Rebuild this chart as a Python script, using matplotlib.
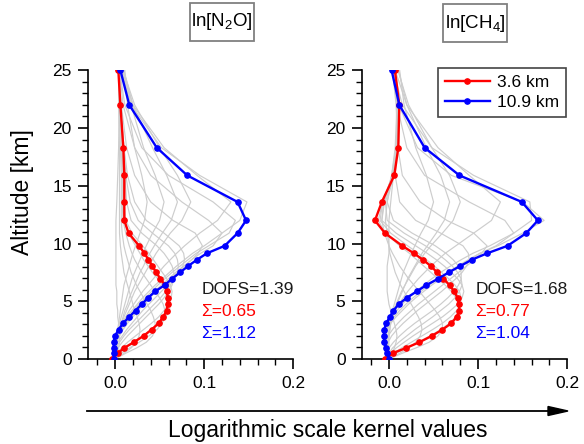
import numpy as np
import matplotlib.pyplot as plt
from matplotlib.ticker import MultipleLocator
from matplotlib.patches import Rectangle, Polygon

plt.rcParams['font.family'] = ['Liberation Sans', 'DejaVu Sans']
plt.rcParams['mathtext.fontset'] = 'custom'
plt.rcParams['mathtext.rm'] = 'Liberation Sans'
plt.rcParams['mathtext.default'] = 'regular'

# retrieval altitude levels [km]
alt = [0.0, 0.5, 0.95, 1.45, 2.0, 2.55, 3.1, 3.65, 4.2, 4.75, 5.3, 5.85, 6.4,
       6.95, 7.5, 8.05, 8.6, 9.15, 9.8, 10.9, 12.0, 13.6, 15.9, 18.3, 22.0, 25.0]

# ln[N2O] kernels
n2o_red = [-0.003, 0.003, 0.010, 0.021, 0.032, 0.041, 0.049, 0.054, 0.058, 0.059, 0.0592, 0.058, 0.056,
           0.051, 0.046, 0.042, 0.0375, 0.033, 0.027, 0.0152, 0.0104, 0.0104, 0.0104, 0.0093, 0.006, 0.0037]
n2o_blue = [-0.0015, -0.0015, -0.0015, -0.0015, 0.0, 0.004, 0.009, 0.016, 0.023, 0.030, 0.037, 0.045, 0.0557,
            0.064, 0.073, 0.082, 0.092, 0.103, 0.123, 0.1375, 0.147, 0.1375, 0.081, 0.0468, 0.016, 0.006]
n2o_gray = [
    [0, 0.002, 0.004, 0.005, 0.005, 0.004, 0.004, 0.003, 0.003, 0.002, 0.002, 0.002, 0.001,
     0.001, 0.001, 0.001, 0.001, 0.001, 0.001, 0.001, 0.001, 0.002, 0.003, 0.004, 0.005, 0.006],
    [0, 0.010, 0.018, 0.024, 0.027, 0.028, 0.027, 0.025, 0.022, 0.020, 0.018, 0.016, 0.014,
     0.012, 0.010, 0.009, 0.008, 0.007, 0.006, 0.005, 0.005, 0.005, 0.005, 0.005, 0.004, 0.004],
    [0, 0.012, 0.024, 0.035, 0.042, 0.045, 0.045, 0.043, 0.040, 0.036, 0.032, 0.028, 0.024,
     0.021, 0.018, 0.016, 0.014, 0.012, 0.010, 0.008, 0.007, 0.007, 0.007, 0.006, 0.005, 0.004],
    [0, 0.007, 0.016, 0.027, 0.038, 0.047, 0.053, 0.056, 0.056, 0.054, 0.050, 0.045, 0.040,
     0.035, 0.030, 0.026, 0.022, 0.019, 0.016, 0.012, 0.009, 0.008, 0.008, 0.007, 0.005, 0.004],
    [0, 0.004, 0.011, 0.020, 0.031, 0.041, 0.050, 0.057, 0.061, 0.062, 0.061, 0.058, 0.053,
     0.048, 0.042, 0.037, 0.032, 0.028, 0.023, 0.015, 0.010, 0.009, 0.009, 0.008, 0.006, 0.004],
    [0, 0.002, 0.007, 0.014, 0.023, 0.032, 0.041, 0.049, 0.055, 0.060, 0.063, 0.064, 0.062,
     0.058, 0.053, 0.048, 0.043, 0.038, 0.031, 0.019, 0.012, 0.010, 0.010, 0.009, 0.006, 0.004],
    [0, 0.0, 0.003, 0.008, 0.014, 0.021, 0.028, 0.035, 0.042, 0.049, 0.055, 0.060, 0.064,
     0.066, 0.066, 0.064, 0.060, 0.055, 0.047, 0.030, 0.018, 0.013, 0.011, 0.009, 0.006, 0.004],
    [0, 0.0, 0.001, 0.005, 0.010, 0.016, 0.023, 0.030, 0.037, 0.044, 0.051, 0.057, 0.062,
     0.067, 0.070, 0.071, 0.070, 0.067, 0.060, 0.042, 0.026, 0.017, 0.012, 0.010, 0.006, 0.004],
    [0, -0.001, 0.0, 0.003, 0.008, 0.013, 0.019, 0.025, 0.031, 0.038, 0.045, 0.052, 0.059,
     0.066, 0.072, 0.076, 0.078, 0.077, 0.072, 0.055, 0.035, 0.022, 0.014, 0.010, 0.006, 0.004],
    [0, -0.0015, -0.001, 0.001, 0.005, 0.009, 0.014, 0.020, 0.026, 0.032, 0.039, 0.046, 0.054,
     0.062, 0.070, 0.078, 0.086, 0.093, 0.098, 0.090, 0.065, 0.040, 0.022, 0.013, 0.007, 0.004],
    [0, -0.0015, -0.0015, 0.0, 0.003, 0.007, 0.012, 0.018, 0.024, 0.030, 0.037, 0.044, 0.052,
     0.060, 0.068, 0.077, 0.086, 0.096, 0.110, 0.120, 0.105, 0.075, 0.040, 0.022, 0.009, 0.005],
    [0, -0.0015, -0.0015, -0.0005, 0.002, 0.005, 0.010, 0.015, 0.021, 0.027, 0.034, 0.041, 0.048,
     0.056, 0.064, 0.073, 0.082, 0.091, 0.105, 0.128, 0.135, 0.110, 0.060, 0.030, 0.011, 0.005],
    [0, -0.0015, -0.0015, -0.001, 0.001, 0.004, 0.008, 0.013, 0.019, 0.025, 0.031, 0.038, 0.045,
     0.053, 0.061, 0.069, 0.078, 0.087, 0.100, 0.120, 0.140, 0.148, 0.095, 0.052, 0.018, 0.007],
    [0, -0.001, -0.001, 0.0, 0.002, 0.005, 0.008, 0.012, 0.016, 0.021, 0.026, 0.031, 0.037,
     0.043, 0.049, 0.055, 0.062, 0.069, 0.078, 0.095, 0.115, 0.130, 0.092, 0.055, 0.020, 0.008],
    [0, 0.0, 0.001, 0.002, 0.004, 0.006, 0.008, 0.010, 0.013, 0.016, 0.019, 0.022, 0.026,
     0.030, 0.034, 0.038, 0.042, 0.046, 0.052, 0.062, 0.075, 0.085, 0.070, 0.050, 0.022, 0.009],
    [0, 0.0, 0.001, 0.002, 0.003, 0.005, 0.007, 0.009, 0.011, 0.014, 0.016, 0.019, 0.022,
     0.025, 0.028, 0.032, 0.035, 0.039, 0.044, 0.053, 0.063, 0.070, 0.058, 0.042, 0.020, 0.010],
    [0, 0.0, 0.001, 0.002, 0.003, 0.004, 0.005, 0.007, 0.009, 0.011, 0.013, 0.015, 0.017,
     0.019, 0.022, 0.025, 0.028, 0.031, 0.035, 0.042, 0.050, 0.055, 0.045, 0.032, 0.018, 0.010],
    [0, 0.0, 0.0, 0.001, 0.002, 0.003, 0.004, 0.005, 0.006, 0.007, 0.008, 0.009, 0.010,
     0.012, 0.014, 0.016, 0.018, 0.020, 0.023, 0.028, 0.033, 0.036, 0.030, 0.022, 0.014, 0.011],
]

# ln[CH4] kernels
ch4_red = [-0.0045, 0.004, 0.019, 0.034, 0.048, 0.060, 0.070, 0.076, 0.079, 0.0785, 0.077, 0.073, 0.068,
           0.061, 0.054, 0.047, 0.038, 0.028, 0.015, -0.0045, -0.0157, -0.008, 0.006, 0.0105, 0.0116, 0.0067]
ch4_blue = [0.0, -0.002, -0.0035, -0.005, -0.0056, -0.0053, -0.003, 0.001, 0.005, 0.011, 0.020, 0.031, 0.042,
            0.055, 0.067, 0.080, 0.093, 0.110, 0.133, 0.154, 0.167, 0.149, 0.079, 0.040, 0.0116, 0.003]
ch4_gray = [
    [0, 0.003, 0.006, 0.008, 0.009, 0.008, 0.006, 0.004, 0.002, 0.0, -0.001, -0.002, -0.002,
     -0.002, -0.002, -0.002, -0.001, 0.0, 0.0, 0.0, 0.0, 0.002, 0.005, 0.008, 0.010, 0.008],
    [0, 0.012, 0.022, 0.030, 0.035, 0.037, 0.036, 0.033, 0.029, 0.025, 0.021, 0.017, 0.013,
     0.010, 0.007, 0.005, 0.003, 0.001, 0.0, -0.002, -0.004, -0.002, 0.003, 0.007, 0.009, 0.007],
    [0, 0.015, 0.030, 0.045, 0.055, 0.060, 0.060, 0.057, 0.052, 0.046, 0.040, 0.034, 0.028,
     0.022, 0.017, 0.012, 0.008, 0.004, 0.0, -0.005, -0.008, -0.005, 0.003, 0.008, 0.010, 0.007],
    [0, 0.008, 0.020, 0.033, 0.046, 0.058, 0.068, 0.075, 0.078, 0.078, 0.075, 0.070, 0.063,
     0.055, 0.047, 0.039, 0.031, 0.023, 0.012, -0.004, -0.012, -0.007, 0.004, 0.009, 0.011, 0.007],
    [0, 0.005, 0.014, 0.025, 0.037, 0.049, 0.060, 0.069, 0.076, 0.080, 0.081, 0.079, 0.074,
     0.067, 0.059, 0.051, 0.042, 0.033, 0.021, 0.002, -0.010, -0.007, 0.004, 0.009, 0.011, 0.007],
    [0, 0.002, 0.008, 0.017, 0.027, 0.038, 0.049, 0.060, 0.069, 0.077, 0.082, 0.084, 0.082,
     0.077, 0.070, 0.062, 0.053, 0.043, 0.030, 0.008, -0.008, -0.006, 0.004, 0.009, 0.011, 0.007],
    [0, 0.0, 0.004, 0.011, 0.020, 0.029, 0.039, 0.049, 0.058, 0.067, 0.074, 0.079, 0.082,
     0.081, 0.077, 0.071, 0.063, 0.054, 0.041, 0.017, -0.002, -0.004, 0.005, 0.009, 0.010, 0.006],
    [0, -0.002, 0.0, 0.005, 0.012, 0.020, 0.029, 0.039, 0.049, 0.058, 0.066, 0.073, 0.078,
     0.081, 0.081, 0.078, 0.072, 0.064, 0.052, 0.026, 0.005, -0.002, 0.005, 0.009, 0.010, 0.006],
    [0, -0.003, -0.003, -0.001, 0.003, 0.009, 0.016, 0.024, 0.032, 0.041, 0.050, 0.059, 0.067,
     0.075, 0.082, 0.087, 0.090, 0.089, 0.083, 0.058, 0.030, 0.012, 0.007, 0.009, 0.009, 0.005],
    [0, -0.004, -0.005, -0.004, -0.001, 0.004, 0.010, 0.017, 0.025, 0.033, 0.042, 0.051, 0.060,
     0.069, 0.078, 0.087, 0.096, 0.104, 0.110, 0.095, 0.065, 0.035, 0.015, 0.010, 0.008, 0.004],
    [0, -0.003, -0.005, -0.006, -0.005, -0.002, 0.002, 0.008, 0.015, 0.022, 0.030, 0.039, 0.048,
     0.058, 0.068, 0.079, 0.090, 0.102, 0.120, 0.140, 0.130, 0.090, 0.040, 0.020, 0.009, 0.004],
    [0, -0.003, -0.005, -0.006, -0.005, -0.003, 0.001, 0.006, 0.012, 0.019, 0.027, 0.036, 0.045,
     0.055, 0.066, 0.077, 0.089, 0.102, 0.122, 0.150, 0.174, 0.150, 0.070, 0.032, 0.011, 0.004],
    [0, -0.002, -0.004, -0.005, -0.005, -0.003, 0.0, 0.004, 0.009, 0.015, 0.022, 0.030, 0.039,
     0.048, 0.058, 0.069, 0.081, 0.094, 0.113, 0.140, 0.160, 0.158, 0.095, 0.048, 0.015, 0.005],
    [0, -0.001, -0.002, -0.003, -0.003, -0.002, 0.0, 0.003, 0.007, 0.011, 0.016, 0.021, 0.027,
     0.033, 0.040, 0.047, 0.055, 0.063, 0.075, 0.095, 0.115, 0.125, 0.090, 0.055, 0.020, 0.007],
    [0, 0.0, -0.001, -0.001, -0.001, 0.0, 0.001, 0.003, 0.005, 0.008, 0.011, 0.014, 0.018,
     0.022, 0.026, 0.030, 0.035, 0.040, 0.047, 0.060, 0.072, 0.080, 0.068, 0.048, 0.022, 0.010],
    [0, 0.0, -0.001, -0.001, 0.0, 0.001, 0.002, 0.004, 0.006, 0.009, 0.012, 0.015, 0.018,
     0.021, 0.025, 0.029, 0.033, 0.037, 0.043, 0.053, 0.062, 0.068, 0.058, 0.042, 0.020, 0.011],
    [0, 0.0, 0.0, 0.0, 0.0, 0.001, 0.002, 0.003, 0.004, 0.006, 0.008, 0.010, 0.012,
     0.014, 0.016, 0.019, 0.022, 0.025, 0.029, 0.036, 0.044, 0.050, 0.042, 0.030, 0.017, 0.012],
]

titles = ['ln[N$_2$O]', 'ln[CH$_4$]']
dofs = ['DOFS=1.39', 'DOFS=1.68']
sum_red = ['\u03a3=0.65', '\u03a3=0.77']
sum_blue = ['\u03a3=1.12', '\u03a3=1.04']
legend_labels = ['3.6 km', '10.9 km']

fig = plt.figure(figsize=(5.84, 4.44), dpi=100)
ax1 = fig.add_axes([0.1512, 0.1914, 0.351, 0.6503])
ax2 = fig.add_axes([0.6202, 0.1914, 0.3512, 0.6503])

panels = [(ax1, n2o_gray, n2o_red, n2o_blue), (ax2, ch4_gray, ch4_red, ch4_blue)]
for i, (ax, gray, red, blue) in enumerate(panels):
    for g in gray:
        ax.plot(g, alt, color='#cdcdcd', lw=0.85, zorder=1)
    ax.plot(red, alt, color='#ff0000', lw=1.7, marker='o', ms=3.8, zorder=3, label=legend_labels[0])
    ax.plot(blue, alt, color='#0000ff', lw=1.7, marker='o', ms=3.8, zorder=3, label=legend_labels[1])

    ax.set_xlim(-0.03, 0.2)
    ax.set_ylim(0, 25)
    ax.xaxis.set_major_locator(MultipleLocator(0.1))
    ax.xaxis.set_minor_locator(MultipleLocator(0.02))
    ax.yaxis.set_major_locator(MultipleLocator(5))
    ax.yaxis.set_minor_locator(MultipleLocator(1))
    ax.xaxis.set_major_formatter(plt.FormatStrFormatter('%.1f'))
    ax.spines['top'].set_visible(False)
    ax.spines['right'].set_visible(False)
    for s in ['left', 'bottom']:
        ax.spines[s].set_linewidth(1.2)
    ax.tick_params(which='major', direction='out', length=7, width=1.2, labelsize=12.5, pad=5)
    ax.tick_params(which='minor', direction='out', length=4, width=1.0)

    ax.text(0.097, 6.0, dofs[i], fontsize=12.5, color='#1a1a1a', va='center')
    ax.text(0.097, 4.1, sum_red[i], fontsize=12.5, color='#ff0000', va='center')
    ax.text(0.097, 2.2, sum_blue[i], fontsize=12.5, color='#0000ff', va='center')

ax1.set_ylabel('Altitude [km]', fontsize=16.5)
ax1.yaxis.set_label_coords(-0.265, 0.577)

# boxed species titles
boxes = [(190, 3, 64, 38), (443, 4, 64, 38)]
for t, (bx, by, bw, bh) in zip(titles, boxes):
    fig.add_artist(Rectangle((bx / 584, 1 - (by + bh) / 444), bw / 584, bh / 444,
                             transform=fig.transFigure, fc='white', ec='#808080', lw=1.3))
    fig.text((bx + bw / 2) / 584, 1 - (by + bh / 2) / 444, t, fontsize=13.5,
             ha='center', va='center')

leg = ax2.legend(loc='upper right', bbox_to_anchor=(566 / 584, 1 - 68 / 444),
                 bbox_transform=fig.transFigure, borderaxespad=0, fontsize=12.5,
                 fancybox=False, edgecolor='#444444', framealpha=1, handlelength=2.6,
                 handletextpad=0.4, borderpad=0.4, labelspacing=0.3)
leg.get_frame().set_linewidth(1.2)

# arrow and common x label
ya = 1 - 411 / 444
fig.add_artist(plt.Line2D([87 / 584, 550 / 584], [ya, ya], color='black', lw=1.3))
fig.add_artist(Polygon([[548 / 584, ya + 4.5 / 444], [568 / 584, ya], [548 / 584, ya - 4.5 / 444]],
                       closed=True, fc='black', ec='black', transform=fig.transFigure))
fig.text(328 / 584, 1 - 430 / 444, 'Logarithmic scale kernel values', fontsize=16.5,
         ha='center', va='center')

fig.savefig('out.png', dpi=100)
